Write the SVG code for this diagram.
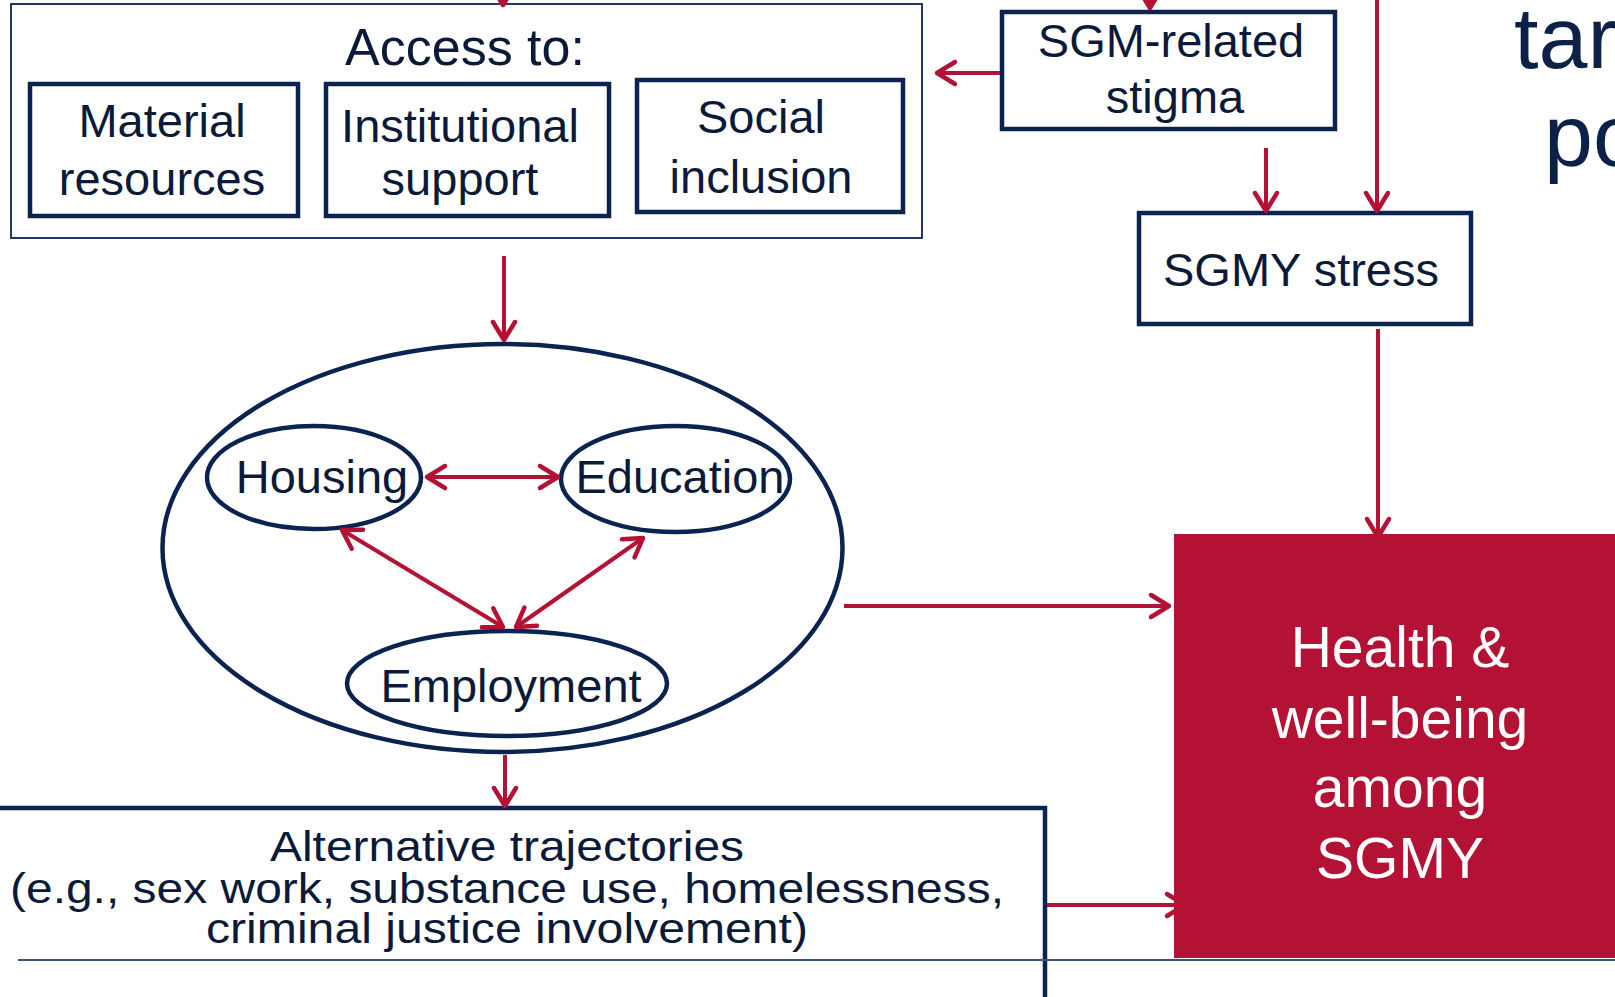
<svg xmlns="http://www.w3.org/2000/svg" width="1615" height="997" viewBox="0 0 1615 997">
<style>
text{font-family:"Liberation Sans",Arial,sans-serif;fill:#0b1a38;text-anchor:middle}
.box{fill:#fff;stroke:#0a2350;stroke-width:4.5}
.thin{fill:#fff;stroke:#0a2350;stroke-width:1.8}
.ell{fill:none;stroke:#0a2350;stroke-width:4.5}
.arr{stroke:#b31235;stroke-width:4;fill:none;marker-end:url(#ah)}
.arr2{stroke:#b31235;stroke-width:4;fill:none;marker-end:url(#ah);marker-start:url(#ahs)}
.t47{font-size:47px}
.alt{font-size:42px}
.wt{fill:#fff;font-size:57px}
</style>
<defs>
<marker id="ah" markerUnits="userSpaceOnUse" viewBox="-24 -16 28 32" markerWidth="28" markerHeight="32" refX="0" refY="0" orient="auto">
<path d="M-18,-11 L0,0 L-18,11" fill="none" stroke="#b31235" stroke-width="4.5" stroke-linecap="round" stroke-linejoin="round"/>
</marker>
<marker id="ahs" markerUnits="userSpaceOnUse" viewBox="-24 -16 28 32" markerWidth="28" markerHeight="32" refX="0" refY="0" orient="auto-start-reverse">
<path d="M-18,-11 L0,0 L-18,11" fill="none" stroke="#b31235" stroke-width="4.5" stroke-linecap="round" stroke-linejoin="round"/>
</marker>
</defs>
<rect width="1615" height="997" fill="#fff"/>

<g id="title-fragment">
<text x="1514" y="68" style="font-size:88px;fill:#0b2148;text-anchor:start">tar</text>
<text x="1544" y="166" style="font-size:88px;fill:#0b2148;text-anchor:start">po</text>
</g>

<g id="health">
<rect x="1174" y="534" width="460" height="424" fill="#b31235"/>
<text class="wt" x="1400" y="667">Health &amp;</text>
<text class="wt" x="1400" y="738">well-being</text>
<text class="wt" x="1400" y="807">among</text>
<text class="wt" x="1400" y="878">SGMY</text>
</g>

<g id="access">
<rect class="thin" x="11" y="4" width="911" height="234"/>
<text x="465" y="65" style="font-size:52px">Access to:</text>
</g>
<g id="material">
<rect class="box" x="30" y="84" width="268" height="132"/>
<text class="t47" x="162" y="137">Material</text>
<text class="t47" x="162" y="195">resources</text>
</g>
<g id="institutional">
<rect class="box" x="326" y="84" width="283" height="132"/>
<text class="t47" x="460" y="142">Institutional</text>
<text class="t47" x="460" y="195">support</text>
</g>
<g id="social">
<rect class="box" x="637" y="80" width="266" height="132"/>
<text class="t47" x="761" y="133">Social</text>
<text class="t47" x="761" y="193">inclusion</text>
</g>

<g id="stigma">
<rect class="box" x="1002" y="12" width="333" height="117"/>
<text class="t47" x="1171" y="57">SGM-related</text>
<text class="t47" x="1175" y="113">stigma</text>
</g>
<g id="stress">
<rect class="box" x="1139" y="213" width="332" height="111"/>
<text class="t47" x="1301" y="286">SGMY stress</text>
</g>

<g id="domains">
<ellipse class="ell" cx="502.5" cy="548" rx="340" ry="204"/>
</g>
<g id="housing">
<ellipse class="ell" cx="314" cy="477.5" rx="107" ry="51.5"/>
<text class="t47" x="322" y="493">Housing</text>
</g>
<g id="education">
<ellipse class="ell" cx="675.5" cy="479" rx="114.5" ry="53"/>
<text class="t47" x="680" y="493">Education</text>
</g>
<g id="employment">
<ellipse class="ell" cx="507" cy="683.5" rx="160" ry="52.5"/>
<text class="t47" x="511" y="702">Employment</text>
</g>

<g id="alternative">
<rect class="box" x="-10" y="808" width="1055" height="300"/>
<text class="alt" x="507" y="861" textLength="474" lengthAdjust="spacingAndGlyphs">Alternative trajectories</text>
<text class="alt" x="507" y="903" textLength="994" lengthAdjust="spacingAndGlyphs">(e.g., sex work, substance use, homelessness,</text>
<text class="alt" x="507" y="943" textLength="602" lengthAdjust="spacingAndGlyphs">criminal justice involvement)</text>
</g>
<line x1="18" y1="960" x2="1615" y2="960" stroke="#3b5278" stroke-width="2"/>

<g id="connectors">
<line class="arr" x1="503" y1="-40" x2="503" y2="5"/>
<line class="arr" x1="1150" y1="-40" x2="1150" y2="8"/>
<line class="arr" x1="1000" y1="73" x2="937" y2="73"/>
<line class="arr" x1="1266" y1="148" x2="1266" y2="211"/>
<line class="arr" x1="1377" y1="-10" x2="1377" y2="211"/>
<line class="arr" x1="1378" y1="329" x2="1378" y2="537"/>
<line class="arr" x1="504" y1="256" x2="504" y2="340"/>
<line class="arr2" x1="427" y1="477" x2="558" y2="477"/>
<line class="arr2" x1="342" y1="530" x2="503" y2="627"/>
<line class="arr2" x1="643" y1="538" x2="516" y2="627"/>
<line class="arr" x1="844" y1="606" x2="1169" y2="606"/>
<line class="arr" x1="505" y1="755" x2="505" y2="806"/>
<line class="arr" x1="1047" y1="905" x2="1185" y2="905"/>
</g>
</svg>
